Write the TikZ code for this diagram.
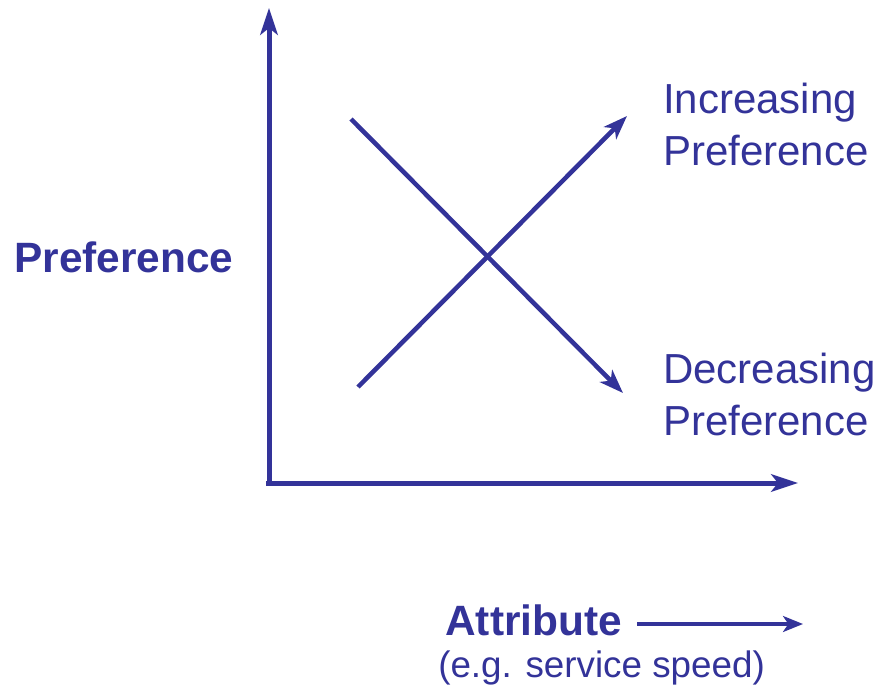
\documentclass[tikz,border=0pt]{standalone}
\usepackage{fontspec}
\setmainfont{Liberation Sans}
\usetikzlibrary{arrows.meta}
\definecolor{navy}{HTML}{333399}
\begin{document}
\begin{tikzpicture}[x=0.75pt,y=-0.75pt,
  axis/.style={draw=navy,line width=3.75pt,-{Stealth[length=20pt,width=13pt,inset=5pt]}},
  trend/.style={draw=navy,line width=3.4pt,-{Stealth[length=18pt,width=13pt,inset=5pt]}},
  small/.style={draw=navy,line width=2.4pt,-{Stealth[length=15pt,width=12pt,inset=4pt]}},
  lab/.style={text=navy,inner sep=0pt,font=\fontsize{31.5pt}{39pt}\selectfont,align=left},
  blab/.style={lab,font=\fontsize{31.8pt}{39pt}\selectfont\bfseries},
  slab/.style={lab,font=\fontsize{27.6pt}{34pt}\selectfont}]
\useasboundingbox (0,0) rectangle (879,689);
\coordinate (o) at (266,483);
\coordinate (ytop) at (269,8);
\coordinate (xend) at (798,483);
\coordinate (ybot) at (269,485);
\draw[axis] (ybot) -- (ytop);
\draw[axis] (o) -- (xend);
\coordinate (d1) at (351,119);
\coordinate (d2) at (623,393);
\coordinate (i1) at (358,387);
\coordinate (i2) at (627,116);
\draw[trend] (d1) -- (d2);
\draw[trend] (i1) -- (i2);
\node[blab,anchor=base west] (pref) at (14,272) {Preference};
\node[lab,anchor=base west] (inc) at (663,165) {Increasing\\Preference};
\node[lab,anchor=base west] (dec) at (663,435) {Decreasing\\Preference};
\node[blab,anchor=base west] (attr) at (445,635) {Attribute};
\coordinate (a1) at (637,624);
\coordinate (a2) at (803,624);
\draw[small] (a1) -- (a2);
\node[slab,anchor=base west] (eg) at (438,677) {(e.g. service speed)};
\end{tikzpicture}
\end{document}
